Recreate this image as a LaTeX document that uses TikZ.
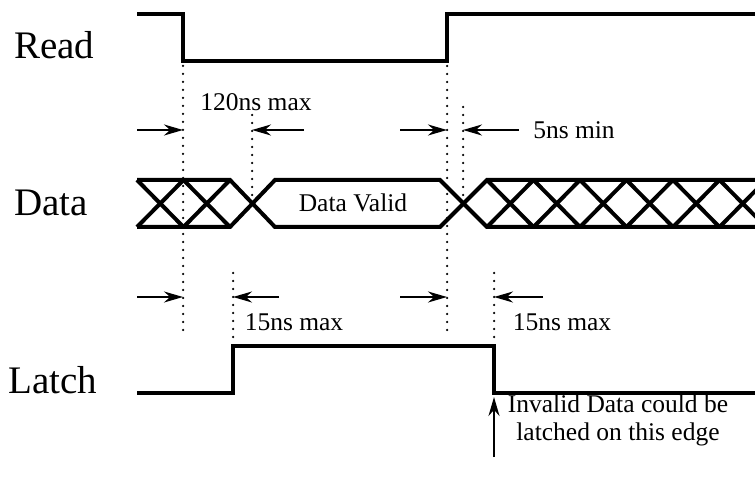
\documentclass[tikz,border=0pt]{standalone}
\usepackage{fontspec}
\setmainfont{Liberation Serif}
\usetikzlibrary{arrows.meta}
\tikzset{
	sig/.style={line width=3.5pt,line join=miter},
	hatch/.style={line width=4pt},
	guide/.style={line width=2.5pt,dash pattern=on 0pt off 8pt,line cap=round},
	gap/.style={line width=2.2pt,-{Stealth[length=19pt,width=11pt]}},
	big/.style={inner sep=0pt,anchor=west,font=\fontsize{39}{40}\selectfont},
	small/.style={inner sep=0pt,align=center,font=\fontsize{25.5}{28}\selectfont}
}

\begin{document}
\begin{tikzpicture}[x=1pt,y=-1pt]
						\useasboundingbox (0,0) rectangle (755,478);
						% signal names
						\node [big] (read) at (14,45) {Read};
						\node [big] (data) at (14,203) {Data};
						\node [big] (latch) at (8,380) {Latch};

						% read and latch
						\draw [sig] (137,14) -- (183,14) -- (183,61) -- (447,61) -- (447,14) -- (755,14);
						\draw [sig] (137,393) -- (233,393) -- (233,346) -- (494,346) -- (494,393) -- (755,393);

						% data bus
						\begin{scope}
						\clip (130,170) rectangle (755,240);
						\draw [hatch] (137,180) -- (230,180) -- (275,227) -- (440,227) -- (487,180) -- (755,180);
						\draw [hatch] (137,227) -- (230,227) -- (275,180) -- (440,180) -- (487,227) -- (755,227);
						\foreach \x in {137,183.5,487,533.5,580,626.5,673,719.5}
						{
							\draw [hatch] (\x,180) -- (\x+46.5,227);
							\draw [hatch] (\x,227) -- (\x+46.5,180);
						}
						\end{scope}
						\node [small] (valid) at (353,203) {Data Valid};

						% timing guides
						\draw [guide] (183,66) -- (183,332);
						\draw [guide] (447,66) -- (447,332);
						\draw [guide] (252,115) -- (252,198);
						\draw [guide] (463,107) -- (463,198);
						\draw [guide] (233,273) -- (233,341);
						\draw [guide] (494,273) -- (494,341);

						% delays
						\coordinate (rdfall) at (183,130);
						\coordinate (dvalid) at (252,130);
						\coordinate (rdrise) at (447,130);
						\coordinate (dhold) at (463,130);
						\coordinate (rdfall2) at (183,297);
						\coordinate (ltrise) at (233,297);
						\coordinate (rdrise2) at (447,297);
						\coordinate (ltfall) at (494,297);
						\coordinate (t1) at (137,130);
						\coordinate (t2) at (304,130);
						\coordinate (t3) at (400,130);
						\coordinate (t4) at (519,130);
						\coordinate (t5) at (137,297);
						\coordinate (t6) at (279,297);
						\coordinate (t7) at (400,297);
						\coordinate (t8) at (543,297);
						\draw [gap] (t1) -- (rdfall);
						\draw [gap] (t2) -- (dvalid);
						\draw [gap] (t3) -- (rdrise);
						\draw [gap] (t4) -- (dhold);
						\draw [gap] (t5) -- (rdfall2);
						\draw [gap] (t6) -- (ltrise);
						\draw [gap] (t7) -- (rdrise2);
						\draw [gap] (t8) -- (ltfall);
						\node [small] (tacc) at (256,102) {120ns max};
						\node [small] (thold) at (574,130) {5ns min};
						\node [small] (tl1) at (294,322) {15ns max};
						\node [small] (tl2) at (562,322) {15ns max};

						% note
						\node [small] (note) at (618,420) {Invalid Data could be\\latched on this edge};
						\coordinate (edge) at (494,397);
						\coordinate (t9) at (494,457);
						\draw [gap] (t9) -- (edge);
					\end{tikzpicture}
\end{document}
